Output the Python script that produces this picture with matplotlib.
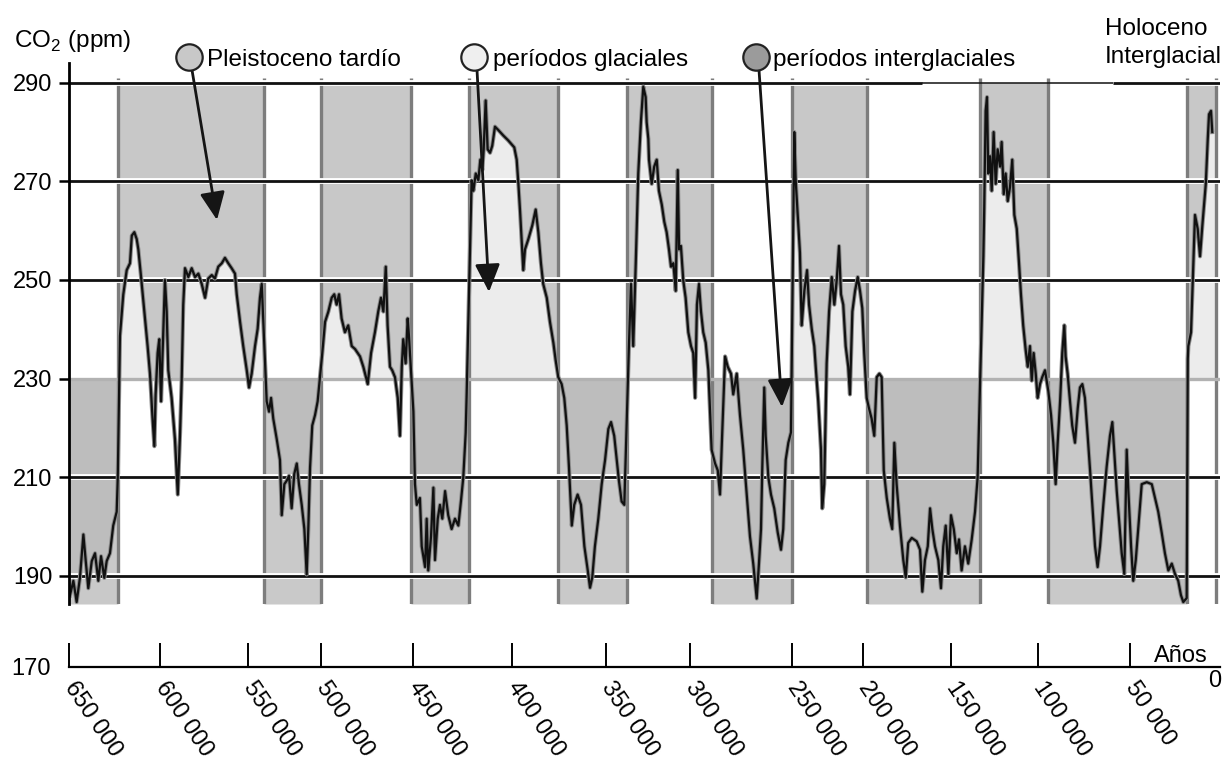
import numpy as np
import matplotlib
matplotlib.use("Agg")
import matplotlib.pyplot as plt
import matplotlib.patheffects as pe
from matplotlib.lines import Line2D
from matplotlib.patches import FancyArrowPatch

plt.rcParams["font.family"] = ["Liberation Sans", "DejaVu Sans"]
plt.rcParams["mathtext.fontset"] = "custom"
plt.rcParams["mathtext.rm"] = "Liberation Sans"

# ---------------------------------------------------------------------
#  Data: CO2 record (age in thousands of years before present, ppm)
# ---------------------------------------------------------------------
co2_age_kyr = [
    649.5, 647.6, 645.8, 644.0, 642.1, 640.8, 639.4, 637.5, 635.7, 633.9,
    632.4, 630.6, 629.3, 627.5, 625.7, 623.8, 623.2, 622.0, 620.2, 618.3,
    616.5, 615.5, 614.1, 612.8, 611.9, 610.4, 608.6, 606.8, 605.5, 604.2,
    603.1, 602.4, 601.3, 600.4, 599.4, 598.7, 597.2, 596.2, 595.3, 593.4,
    591.5, 589.9, 588.6, 587.7, 586.8, 585.8, 583.9, 582.0, 580.1, 578.2,
    576.3, 574.4, 572.6, 570.6, 568.8, 566.9, 564.9, 563.1, 561.2, 559.3,
    557.4, 556.4, 554.5, 552.7, 550.7, 549.3, 547.5, 545.2, 543.4, 541.8,
    540.6, 537.2, 535.6, 534.2, 532.7, 530.3, 528.1, 526.9, 525.1, 523.5,
    521.9, 520.1, 518.3, 516.6, 515.1, 513.2, 511.4, 509.8, 508.7, 507.5,
    506.0, 504.1, 502.3, 499.3, 497.8, 496.0, 494.2, 492.8, 491.5, 490.2,
    488.8, 487.0, 485.2, 483.3, 481.5, 478.8, 477.0, 474.6, 472.8, 470.7,
    468.9, 467.4, 466.1, 464.8, 463.8, 462.5, 461.3, 459.8, 458.3, 457.1,
    456.1, 455.3, 454.0, 452.9, 452.2, 449.8, 449.0, 448.1, 446.5, 445.6,
    443.9, 443.1, 442.3, 440.9, 439.7, 438.9, 437.5, 436.4, 435.2, 433.8,
    432.2, 430.5, 428.8, 427.1, 425.8, 424.6, 423.4, 422.9, 420.4, 419.5,
    418.3, 417.0, 416.0, 415.0, 414.3, 413.3, 412.3, 411.1, 410.0, 408.6,
    406.9, 404.4, 401.9, 398.8, 397.5, 396.6, 395.7, 394.8, 394.0, 393.1,
    391.3, 389.2, 387.4, 386.0, 384.6, 383.4, 381.5, 379.8, 378.0, 376.8,
    375.4, 373.6, 372.2, 370.9, 369.7, 368.2, 366.9, 365.1, 363.3, 361.5,
    359.7, 358.5, 357.3, 355.9, 354.1, 352.3, 350.5, 348.6, 347.0, 345.1,
    343.6, 342.3, 340.7, 339.1, 336.3, 335.1, 333.8, 332.3, 330.8, 329.2,
    327.8, 326.4, 325.8, 324.8, 324.4, 322.8, 321.3, 319.8, 318.5, 316.8,
    315.3, 313.9, 312.5, 311.3, 309.9, 308.5, 307.3, 306.5, 305.4, 304.0,
    302.6, 301.0, 299.5, 298.4, 297.5, 296.6, 295.6, 294.6, 293.5, 292.3,
    291.0, 289.4, 287.7, 286.4, 285.3, 284.2, 282.8, 281.5, 279.9, 278.8,
    277.1, 275.5, 273.9, 272.2, 270.6, 269.0, 267.3, 266.2, 265.2, 264.6,
    263.6, 262.9, 261.6, 260.3, 258.7, 257.0, 255.4, 254.3, 253.1, 251.8,
    250.5, 248.4, 247.4, 246.0, 244.4, 243.2, 241.3, 239.4, 238.0, 236.1,
    234.3, 232.6, 231.5, 229.6, 228.7, 227.3, 225.6, 223.9, 222.0, 220.2,
    218.5, 216.9, 215.5, 213.9, 212.2, 210.4, 209.2, 207.5, 205.6, 203.7,
    202.1, 200.5, 199.3, 197.9, 196.6, 195.1, 193.6, 192.2, 190.7, 189.4,
    188.2, 186.5, 184.7, 183.4, 182.2, 180.9, 179.0, 177.1, 175.7, 174.3,
    172.3, 169.5, 167.6, 166.3, 164.8, 163.2, 161.9, 160.6, 159.1, 157.2,
    155.7, 154.4, 153.0, 151.5, 150.0, 148.4, 146.7, 145.4, 143.9, 142.0,
    140.1, 138.1, 136.2, 134.7, 131.4, 130.9, 130.1, 129.3, 128.6, 127.6,
    126.6, 125.5, 124.3, 123.2, 121.8, 120.9, 119.7, 118.6, 117.4, 116.1,
    114.8, 113.6, 112.2, 110.9, 109.8, 108.5, 107.1, 105.9, 104.6, 103.6,
    102.5, 101.3, 100.2, 98.9, 97.7, 96.2, 94.4, 92.9, 91.7, 90.4,
    89.3, 88.0, 86.8, 85.7, 85.0, 83.9, 82.6, 81.4, 79.9, 78.4,
    77.2, 75.9, 74.5, 73.0, 71.7, 70.5, 69.0, 67.6, 66.3, 64.5,
    62.7, 60.9, 59.6, 58.5, 57.2, 56.0, 54.5, 53.1, 51.8, 50.9,
    49.4, 48.2, 46.8, 45.0, 43.5, 40.7, 37.9, 36.1, 34.3, 32.4,
    30.6, 28.7, 26.8, 25.0, 23.2, 21.7, 20.4, 18.5, 17.9, 17.6,
    16.1, 14.8, 13.9, 12.4, 11.1, 9.8, 8.7, 7.9, 6.8, 6.1,
    5.0, 4.3,
]
co2_ppm = [
    186.0, 189.0, 184.7, 189.6, 198.4, 193.0, 187.5, 193.0, 194.6, 189.0,
    194.0, 189.6, 193.0, 194.6, 200.2, 203.0, 210.0, 238.7, 247.0, 252.0,
    253.4, 259.0, 259.7, 258.3, 256.2, 250.6, 243.6, 236.6, 231.0, 222.6,
    216.3, 226.8, 235.2, 238.0, 225.4, 233.1, 250.0, 243.6, 231.7, 226.1,
    217.7, 206.5, 219.0, 229.6, 245.0, 252.4, 250.6, 252.4, 250.6, 251.3,
    249.2, 246.4, 250.3, 251.0, 250.3, 252.7, 253.4, 254.5, 253.4, 252.4,
    251.3, 247.1, 241.5, 236.6, 231.7, 228.2, 231.0, 236.6, 240.1, 246.4,
    249.2, 225.4, 223.3, 226.1, 221.9, 217.7, 213.5, 202.3, 208.6, 209.3,
    210.3, 203.7, 210.7, 212.8, 208.6, 204.4, 199.5, 190.3, 199.5, 212.0,
    220.5, 222.6, 225.4, 235.2, 241.5, 243.6, 246.4, 247.1, 245.0, 247.1,
    242.2, 239.4, 240.8, 236.6, 236.0, 234.5, 232.4, 228.9, 235.2, 239.4,
    243.6, 246.4, 243.6, 252.7, 240.8, 232.4, 231.7, 230.3, 226.1, 218.4,
    232.4, 238.0, 233.1, 242.2, 238.7, 223.3, 208.6, 204.4, 205.8, 196.0,
    191.8, 201.6, 191.1, 198.0, 207.9, 193.2, 201.6, 204.4, 201.6, 207.2,
    202.3, 199.5, 201.6, 200.2, 205.1, 210.0, 219.0, 226.8, 270.2, 268.1,
    271.6, 270.2, 274.4, 272.3, 276.5, 286.4, 276.5, 275.8, 277.2, 281.1,
    280.4, 279.3, 278.3, 276.9, 274.4, 269.5, 263.9, 257.6, 252.0, 256.2,
    258.3, 261.1, 264.3, 259.7, 253.4, 249.2, 246.4, 241.5, 237.3, 233.8,
    230.3, 228.9, 226.1, 220.5, 212.1, 200.2, 204.4, 206.5, 204.4, 196.0,
    191.1, 187.6, 189.7, 196.0, 201.6, 208.6, 213.5, 219.8, 221.2, 218.4,
    213.5, 209.3, 205.1, 204.4, 237.3, 249.2, 236.6, 253.4, 271.6, 282.2,
    289.2, 287.1, 282.0, 278.6, 274.4, 269.5, 273.0, 274.4, 268.1, 265.3,
    261.8, 259.7, 256.2, 252.7, 253.4, 247.8, 272.3, 256.2, 256.9, 249.9,
    246.4, 239.4, 236.6, 235.2, 226.1, 245.0, 249.2, 243.6, 239.4, 237.3,
    231.7, 215.6, 212.8, 211.4, 206.5, 219.1, 234.5, 232.4, 231.0, 226.8,
    231.0, 222.6, 215.6, 206.5, 198.0, 192.5, 185.4, 192.5, 199.5, 211.4,
    228.2, 218.4, 210.0, 206.5, 203.7, 198.8, 195.3, 199.5, 213.5, 217.0,
    219.1, 280.0, 270.2, 263.2, 255.5, 240.8, 247.8, 252.0, 245.0, 240.1,
    236.6, 229.6, 225.4, 215.6, 203.7, 208.6, 233.1, 243.6, 250.6, 245.0,
    250.0, 256.9, 247.1, 245.0, 236.6, 232.4, 226.8, 243.6, 247.8, 250.6,
    247.8, 244.3, 235.2, 226.1, 224.0, 221.9, 218.4, 230.3, 231.0, 230.3,
    211.4, 205.8, 201.6, 199.5, 217.0, 208.6, 200.2, 193.2, 189.7, 196.7,
    197.7, 197.0, 195.3, 186.8, 193.2, 196.0, 203.7, 199.5, 196.0, 193.2,
    187.5, 196.0, 200.2, 190.4, 202.3, 199.5, 194.6, 197.4, 191.1, 196.0,
    192.5, 197.4, 203.0, 210.0, 254.8, 264.6, 284.3, 287.1, 271.6, 275.1,
    268.1, 280.0, 269.5, 276.5, 273.0, 278.0, 267.4, 271.6, 266.0, 268.8,
    274.4, 263.2, 260.4, 253.4, 247.1, 240.8, 235.9, 232.4, 236.6, 229.6,
    235.2, 231.0, 226.1, 228.9, 230.3, 231.7, 227.5, 222.6, 217.0, 208.6,
    217.0, 225.4, 235.2, 240.8, 234.5, 231.0, 225.4, 220.5, 217.0, 224.0,
    228.2, 228.9, 226.1, 218.4, 211.4, 204.4, 196.0, 191.8, 196.0, 204.4,
    212.1, 218.4, 221.2, 214.9, 207.2, 201.6, 194.6, 190.4, 215.6, 207.2,
    196.0, 189.0, 193.2, 201.6, 208.6, 209.0, 208.6, 205.8, 203.0, 198.8,
    194.6, 191.1, 192.5, 190.4, 189.0, 186.1, 184.7, 185.5, 234.0, 236.6,
    239.4, 253.4, 263.2, 260.4, 254.8, 261.1, 266.0, 269.5, 278.6, 283.6,
    284.3, 280.0,
]

# Period boundaries (kyr); bands alternate, starting with a glacial one
band_edges_kyr = [650.0, 623.1, 539.0, 500.0, 451.1, 421.7, 375.5, 337.5,
                  289.2, 250.0, 197.7, 133.3, 94.6, 18.3, 2.2]

ppm_ticks = [190, 210, 230, 250, 270, 290]
age_ticks_kyr = [650, 600, 550, 500, 450, 400, 350, 300, 250, 200, 150, 100, 50]
age_tick_labels = [f"{a * 1000:,}".replace(",", " ") for a in age_ticks_kyr]

legend_labels = ["Pleistoceno tardío", "períodos glaciales",
                 "períodos interglaciales"]

# ---------------------------------------------------------------------
#  Layout (pixels on a 1224 x 762 canvas)
# ---------------------------------------------------------------------
W, H = 1224, 762
Y_MIN, Y_MAX = 184.3, 294.0
SPLIT = 230  # level that separates the two shading schemes

# the printed time axis is not evenly spaced: where each age sits (px)
axis_ages = np.array([0, 50, 100, 150, 200, 250, 300, 350, 400, 450, 500,
                      550, 600, 650], dtype=float)
axis_px = np.array([1220, 1130, 1038, 951, 863, 792, 690, 606, 512, 413,
                    321, 248, 160, 69], dtype=float)


def age_to_px(a):
    return np.interp(a, axis_ages, axis_px)


def px_to_age(p):
    return np.interp(p, axis_px[::-1], axis_ages[::-1])


def fig_xy(x, y):
    return x / W, 1 - y / H


C_WARM_TOP = "#c8c8c8"
C_WARM_LOW = "#ececec"
C_COLD_TOP = "#bdbdbd"
C_COLD_LOW = "#c9c9c9"

fig = plt.figure(figsize=(W / 100, H / 100), dpi=100)

x0, x1 = age_to_px(650), age_to_px(0)
ax = fig.add_axes([x0 / W, 1 - 604 / H, (x1 - x0) / W, (604 - 63) / H])
ax.set_xscale("function", functions=(age_to_px, px_to_age))
ax.set_xlim(0, 650)
ax.set_ylim(Y_MIN, Y_MAX)

age = np.array(co2_age_kyr)
ppm = np.array(co2_ppm)
order = np.argsort(age)
age_s, ppm_s = age[order], ppm[order]

# shaded periods
for i in range(len(band_edges_kyr) - 1):
    hi, lo = band_edges_kyr[i], band_edges_kyr[i + 1]
    inside = age[(age > lo) & (age < hi)]
    xs = np.sort(np.concatenate([[lo, hi], inside]))
    ys = np.interp(xs, age_s, ppm_s)
    if i % 2 == 1:
        top = np.maximum(ys, SPLIT)
        ax.fill_between(xs, top, 290, color=C_WARM_TOP, lw=0, zorder=1)
        ax.fill_between(xs, SPLIT, top, color=C_WARM_LOW, lw=0, zorder=1)
    else:
        cut = np.minimum(ys, SPLIT)
        ax.fill_between(xs, cut, SPLIT, color=C_COLD_TOP, lw=0, zorder=1)
        ax.fill_between(xs, Y_MIN, cut, color=C_COLD_LOW, lw=0, zorder=1)

ax.vlines(band_edges_kyr[1:], Y_MIN, 291, colors="#7d7d7d", lw=2.4, zorder=2)

# grid lines
halo = [pe.withStroke(linewidth=4.2, foreground="white")]
for y in (270, 250, 210, 190):
    ax.axhline(y, color="#111111", lw=2.0, zorder=3, path_effects=halo)
ax.axhline(SPLIT, color="#b2b2b2", lw=2.4, zorder=3)
ax.plot([650, 166.5], [290, 290], color="#111111", lw=2.0, zorder=3,
        path_effects=halo, solid_capstyle="butt")
ax.plot([166.5, 59.2], [290, 290], color="#111111", lw=1.1, zorder=3,
        solid_capstyle="butt")
ax.plot([59.2, 0], [290, 290], color="#111111", lw=2.0, zorder=3,
        path_effects=halo, solid_capstyle="butt")

ax.plot(age, ppm, color="#111111", lw=1.6, zorder=4,
        path_effects=[pe.Stroke(linewidth=3.0, foreground="#8c8c8c"),
                      pe.Normal()])

for s in ("top", "right", "bottom"):
    ax.spines[s].set_visible(False)
ax.spines["left"].set_linewidth(2.0)
ax.spines["left"].set_zorder(5)
ax.set_xticks([])
ax.set_yticks(ppm_ticks)
ax.tick_params(axis="y", length=7, width=1.8, pad=5, labelsize=17)
ax.patch.set_alpha(0)

# time axis below the panel
axb = fig.add_axes([x0 / W, 1 - 667 / H, (x1 - x0) / W, 30 / H])
axb.set_xscale("function", functions=(age_to_px, px_to_age))
axb.set_xlim(0, 650)
axb.set_ylim(0, 1)
for s in ("top", "left", "right"):
    axb.spines[s].set_visible(False)
axb.spines["bottom"].set_linewidth(1.6)
axb.set_yticks([])
axb.set_xticks(age_ticks_kyr)
axb.set_xticklabels(age_tick_labels, rotation=-56, ha="left", va="center",
                    rotation_mode="anchor", fontsize=17)
axb.tick_params(axis="x", direction="in", length=17, width=1.4, pad=12)
axb.patch.set_alpha(0)

fig.text(*fig_xy(51, 669), "170", fontsize=17, ha="right", va="center")
fig.text(*fig_xy(1154, 662), "Años", fontsize=17, ha="left", va="baseline")
fig.text(*fig_xy(1215, 681), "0", fontsize=17, ha="center", va="center")

# headings and key
fig.text(*fig_xy(14, 47), r"CO$_\mathregular{2}$ (ppm)", fontsize=17.5,
         ha="left", va="baseline")
fig.text(*fig_xy(1105, 35), "Holoceno", fontsize=17.5, ha="left",
         va="baseline")
fig.text(*fig_xy(1105, 63), "Interglacial", fontsize=17.5, ha="left",
         va="baseline")

key_circles = [(189, 57, C_WARM_TOP), (474, 57, "#efefef"), (756, 57, "#9b9b9b")]
key_text_x = [207, 493, 773]
arrow_tips = [(217, 220), (489, 292), (782, 407)]

for (cx, cy, col), tx, label, tip in zip(key_circles, key_text_x,
                                          legend_labels, arrow_tips):
    fig.add_artist(FancyArrowPatch(
        fig_xy(cx + 3, cy + 13), fig_xy(*tip), transform=fig.transFigure,
        arrowstyle="-|>,head_length=1.0,head_width=0.45", mutation_scale=17,
        lw=2.0, color="#151515", shrinkA=0, shrinkB=0, zorder=6))
    fig.add_artist(Line2D([cx / W], [1 - cy / H], marker="o", ms=19,
                          mfc=col, mec="#222222", mew=1.6,
                          transform=fig.transFigure, zorder=7))
    fig.text(*fig_xy(tx, 66), label, fontsize=17.5, ha="left", va="baseline")

fig.savefig("out.png", dpi=100)
